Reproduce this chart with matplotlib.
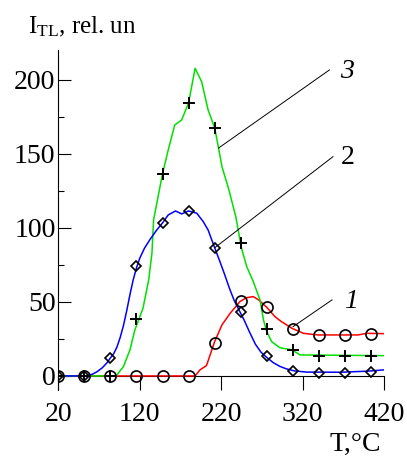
import matplotlib
matplotlib.use('Agg')
import matplotlib.pyplot as plt
from matplotlib.ticker import MultipleLocator

plt.rcParams['font.family'] = ['Liberation Serif', 'DejaVu Serif']
plt.rcParams['mathtext.fontset'] = 'custom'
plt.rcParams['mathtext.rm'] = 'Liberation Serif'
plt.rcParams['mathtext.it'] = 'Liberation Serif:italic'

# --- measured points (markers) ---
marker_T = [20, 52, 84, 116, 148, 180, 212, 244, 276, 308, 340, 372, 404]
pts_1 = [0, 0, 0, 0, 0, 0, 22.5, 50.5, 46.6, 31.8, 27.7, 27.7, 28.6]
pts_2 = [0, 0, 12.2, 74.5, 103.4, 111.5, 86.7, 43.5, 13.3, 3.6, 2.3, 2.3, 3.0]
pts_3 = [0, 0, 0, 38.5, 136.7, 184.5, 167.8, 89.6, 31.8, 17.6, 13.7, 13.7, 13.7]

# --- curve 1 (red) ---
T_1 = [20, 188, 194, 202, 212, 221, 231, 243, 251, 259.5, 266, 276, 286, 294,
       307, 321, 339, 388, 399, 420]
I_1 = [0, 0, 4.1, 7.0, 23.2, 34.5, 42.3, 50.2, 52.9, 53.6, 51.4, 46.4, 40.1,
       36.7, 32.2, 28.8, 27.7, 27.7, 28.8, 28.6]

# --- curve 2 (blue) ---
T_2 = [20, 52, 56, 62, 68, 74, 80, 84, 88, 92, 96, 100, 104, 108, 112, 116,
       120, 126, 133, 140, 148, 155, 164, 171.5, 180, 190, 198, 204, 212, 218,
       224, 230, 236, 242, 248, 255, 262, 269, 276, 284, 292, 300, 310, 325,
       366, 399, 420]
I_2 = [0, 0, 0.3, 1.2, 3.0, 5.5, 9.0, 12.2, 15, 19.5, 26, 34, 44, 55, 65, 73,
       79.5, 86.5, 92.5, 98, 103.4, 108.8, 111.5, 109.5, 111.5, 110, 104.3,
       98.6, 86.7, 78, 69, 59.5, 51, 44.5, 38, 29.5, 21.5, 16, 12.5, 9, 6.5,
       4.8, 3.4, 2.6, 2.5, 3.2, 4.1]

# --- curve 3 (green) ---
T_3 = [20, 91, 100, 108, 114, 124, 131, 135, 137, 141, 148, 155, 163, 171.5,
       180, 188, 196, 204, 212, 216.5, 221, 229, 238, 245, 251.4, 259.5, 267.7,
       272, 276, 282, 292, 307, 317, 420]
I_3 = [0, 0, 6.3, 17.6, 31, 45.7, 64.9, 82.9, 105.4, 116.7, 136.7, 152.7,
       169.6, 173, 184.5, 207.9, 198.9, 179.7, 167.8, 155, 141.4, 126.8,
       107.6, 86.3, 73.9, 63.7, 51.4, 37.8, 30, 23.2, 19.1, 17.6, 14.2, 13.7]

# --- curve labels and leader lines ---
curve_names = ['1', '2', '3']
name_xy = [(378.9, 50.5), (374.8, 147.3), (374.8, 205.6)]
leaders = [((356.2, 51.4), (308.3, 33.3)),
           ((357.4, 148.2), (212.3, 86.7)),
           ((353.0, 206.8), (216.8, 154.0))]
name_italic = [True, False, True]

fig = plt.figure(figsize=(4.07, 4.58), dpi=100)
ax = fig.add_axes([58.3 / 407, (458 - 390) / 458, (384 - 58.3) / 407, (390 - 50.4) / 458])

lw = 1.1
ax.plot(T_1, I_1, color='#ff0000', lw=lw, zorder=2)
ax.plot(T_3, I_3, color='#00e000', lw=lw, zorder=3)
ax.plot(T_2, I_2, color='#0000ff', lw=lw, zorder=4)

ax.plot(marker_T, pts_1, 'o', ms=8, mfc='none', mec='black', mew=1.2, zorder=5)
ax.plot(marker_T, pts_2, 'D', ms=5, mfc='none', mec='black', mew=1.2, zorder=5)
ax.plot(marker_T, pts_3, '+', ms=9, mec='black', mew=1.4, zorder=5)

for (p0, p1), name, xy, it in zip(leaders, curve_names, name_xy, name_italic):
    ax.plot([p0[0], p1[0]], [p0[1], p1[1]], color='black', lw=0.7, zorder=6)
    ax.text(xy[0], xy[1], name, fontsize=20, ha='center', va='center',
            style='italic' if it else 'normal')

ax.set_xlim(20, 420)
ax.set_ylim(-9.5, 220)

ax.spines['top'].set_visible(False)
ax.spines['right'].set_visible(False)
ax.spines['bottom'].set_position(('data', 0))
ax.spines['bottom'].set_zorder(1)
ax.spines['left'].set_linewidth(0.8)
ax.spines['bottom'].set_linewidth(0.8)

ax.set_xticks([20, 120, 220, 320, 420])
ax.set_yticks([0, 50, 100, 150, 200])
ax.yaxis.set_minor_locator(MultipleLocator(25))
ax.tick_params(axis='x', direction='out', length=10, width=0.8, labelsize=20, pad=9)
ax.tick_params(axis='y', which='major', direction='in', length=9.4, width=0.8,
               labelsize=20, pad=2)
ax.tick_params(axis='y', which='minor', direction='in', length=4.3, width=0.8)

fig.text(28 / 407, 1 - 33 / 458, r'I$_{\mathregular{TL}}$, rel. un', fontsize=18,
         ha='left', va='baseline')
fig.text(355 / 407, 1 - 451 / 458, 'T,°C', fontsize=20, ha='center', va='baseline')

fig.savefig('out.png', dpi=100)
